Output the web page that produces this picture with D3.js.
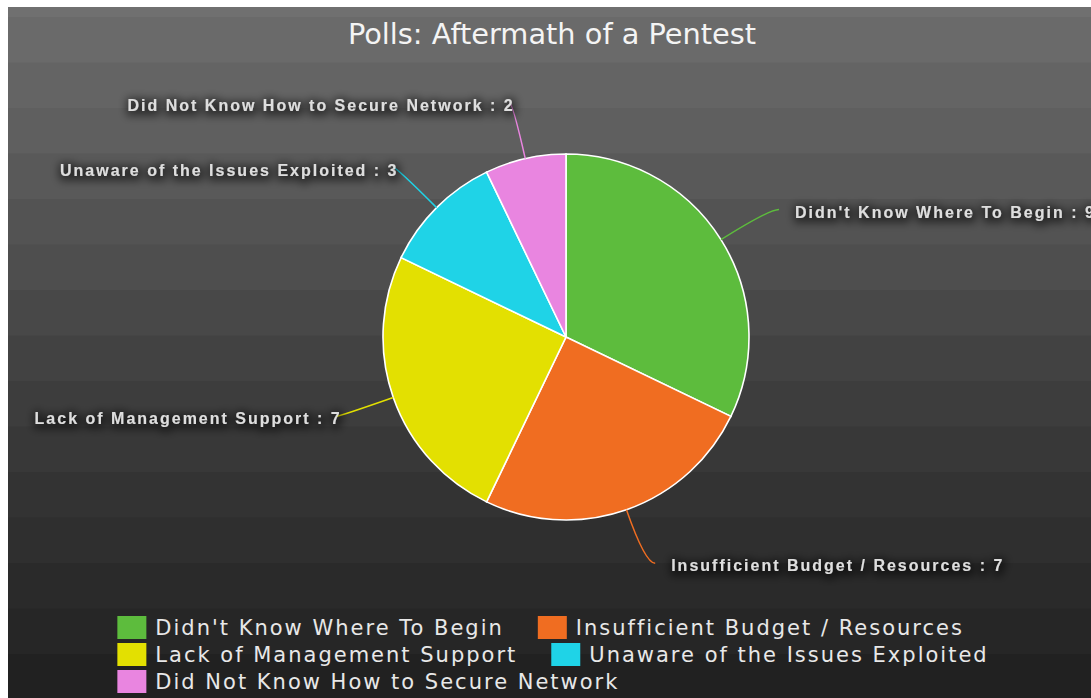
<!DOCTYPE html>
<html>
<head>
<meta charset="utf-8">
<script src="https://cdn.jsdelivr.net/npm/d3@7"></script>
<style>
  html, body { margin: 0; padding: 0; background: #fff; overflow: hidden; }
  svg { display: block; }
</style>
</head>
<body>
<div class="container"></div>
<script>
var categories = [
  "Didn't Know Where To Begin",
  "Insufficient Budget / Resources",
  "Lack of Management Support",
  "Unaware of the Issues Exploited",
  "Did Not Know How to Secure Network"
];
var votes = [9, 7, 7, 3, 2];
var colors = ["#5dbc3d", "#f06d21", "#e3e001", "#1fd3e7", "#e985e0"];
var title = "Polls: Aftermath of a Pentest";

var width = 1091;
var height = 698;
var chart = { left: 8, top: 7, width: 1088 };
var center = { x: 566, y: 337 };
var radius = 183;

var svg = d3
  .select(".container")
  .append("svg")
  .attr("width", width)
  .attr("height", height);

var defs = svg.append("defs");
var halo = defs
  .append("filter")
  .attr("id", "halo")
  .attr("x", "-10%")
  .attr("y", "-80%")
  .attr("width", "120%")
  .attr("height", "260%");
halo.append("feMorphology").attr("in", "SourceAlpha").attr("operator", "dilate").attr("radius", 2.5);
halo.append("feGaussianBlur").attr("stdDeviation", 4);
halo.append("feOffset").attr("dx", 1).attr("dy", 2).attr("result", "blur");
halo
  .append("feComponentTransfer")
  .append("feFuncA")
  .attr("type", "linear")
  .attr("slope", 0.5);
var merge = halo.append("feMerge");
merge.append("feMergeNode");
merge.append("feMergeNode").attr("in", "SourceGraphic");

// banded dark background
var shade = d3
  .scaleLinear()
  .domain([0, 17, 400, 698])
  .range(["#767676", "#6d6d6d", "#3d3d3d", "#1f1f1f"]);
var bandH = 45.5;
var bands = [{ y0: chart.top, y1: 17 }];
for (var y = 17; y < height; y += bandH) bands.push({ y0: y, y1: y + bandH });

svg
  .append("g")
  .selectAll("rect")
  .data(bands)
  .join("rect")
  .attr("x", chart.left)
  .attr("y", (d) => d.y0)
  .attr("width", chart.width)
  .attr("height", (d) => d.y1 - d.y0 + 0.5)
  .attr("fill", (d) => shade((d.y0 + d.y1) / 2));

svg
  .append("text")
  .attr("x", chart.left + chart.width / 2)
  .attr("y", 44)
  .attr("text-anchor", "middle")
  .style("font-family", "'DejaVu Sans', sans-serif")
  .style("font-size", "28.8px")
  .style("fill", "#f4f4f4")
  .text(title);

// pie
var slices = categories.map(function (c, i) {
  return { name: c, value: votes[i], color: colors[i] };
});

var pie = d3
  .pie()
  .sort(null)
  .value((d) => d.value);
var arcs = pie(slices);

var arc = d3.arc().innerRadius(0).outerRadius(radius);

var g = svg.append("g").attr("transform", `translate(${center.x},${center.y})`);

g.selectAll("path.slice")
  .data(arcs)
  .join("path")
  .attr("class", "slice")
  .attr("d", arc)
  .attr("fill", (d) => d.data.color)
  .attr("stroke", "#fff")
  .attr("stroke-width", 1.6);

function polar(d, r) {
  var a = (d.startAngle + d.endAngle) / 2;
  return [Math.sin(a) * r, -Math.cos(a) * r];
}

function side(d) {
  return (d.startAngle + d.endAngle) / 2 < Math.PI ? 1 : -1;
}

// leader lines
g.selectAll("path.link")
  .data(arcs)
  .join("path")
  .attr("class", "link")
  .attr("fill", "none")
  .attr("stroke", (d) => d.data.color)
  .attr("stroke-width", 1.5)
  .attr("d", function (d) {
    var p0 = polar(d, radius);
    var pc = polar(d, radius * 1.31);
    var s = side(d);
    var pe = [pc[0] + (s > 0 ? 10 : -3), pc[1]];
    return `M ${p0[0]} ${p0[1]} Q ${pc[0]} ${pc[1]} ${pe[0]} ${pe[1]}`;
  });

g.selectAll("text.label")
  .data(arcs)
  .join("text")
  .attr("class", "label")
  .attr("filter", "url(#halo)")
  .attr("x", function (d) {
    var pc = polar(d, radius * 1.31);
    return side(d) > 0 ? pc[0] + 26 : pc[0] + 2;
  })
  .attr("y", (d) => polar(d, radius * 1.31)[1] + 2.5)
  .attr("dy", "0.35em")
  .attr("text-anchor", (d) => (side(d) > 0 ? "start" : "end"))
  .style("font-family", "'Liberation Sans', Arial, sans-serif")
  .style("font-weight", "bold")
  .style("font-size", "16px")
  .style("letter-spacing", "2px")
  .style("fill", "#dedede")
  .text((d) => `${d.data.name} : ${d.data.value}`);

// legend, flowing two items per row
var legend = svg.append("g");
var item = legend
  .selectAll("g")
  .data(slices)
  .join("g");

item
  .append("rect")
  .attr("width", 29)
  .attr("height", 23)
  .attr("fill", (d) => d.color);

item
  .append("text")
  .attr("x", 38)
  .attr("y", 19)
  .style("font-family", "'DejaVu Sans', sans-serif")
  .style("font-size", "21px")
  .style("letter-spacing", "2px")
  .style("fill", "#e8e8e8")
  .text((d) => d.name);

var rowGap = 27;
var itemGap = 34;
var rows = [];
item.each(function (d, i) {
  var w = 38 + this.querySelector("text").getComputedTextLength();
  var r = Math.floor(i / 2);
  if (!rows[r]) rows[r] = [];
  rows[r].push({ node: this, w: w });
});
var rowWidths = rows.map((r) => d3.sum(r, (o) => o.w) + itemGap * (r.length - 1));
var left = 553 - d3.max(rowWidths) / 2;
rows.forEach(function (r, ri) {
  var x = left;
  r.forEach(function (o) {
    d3.select(o.node).attr("transform", `translate(${x},${616 + ri * rowGap})`);
    x += o.w + itemGap;
  });
});
</script>
</body>
</html>
